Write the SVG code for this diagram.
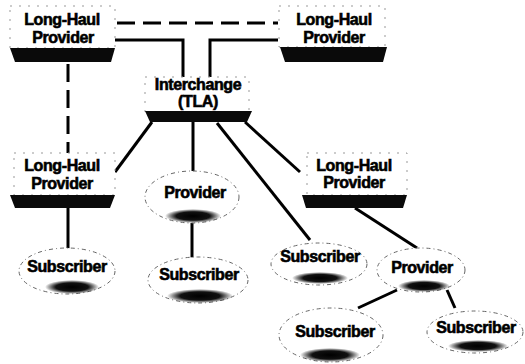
<svg xmlns="http://www.w3.org/2000/svg" width="525" height="364" viewBox="0 0 525 364">
<style>
.t{font-family:"Liberation Sans",Arial,sans-serif;font-weight:bold;font-size:16px;fill:#000;stroke:#000;stroke-width:0.6;letter-spacing:-0.4px;text-anchor:middle}
.box{fill:#fff;stroke:#999;stroke-width:1;stroke-dasharray:2 7}
.band{fill:#0a0a0a}
.oval{fill:#fff;stroke:#666;stroke-width:1;stroke-dasharray:4 3 1 3}
.blob{fill:url(#bg)}
.c{fill:none;stroke:#000;stroke-width:3}
.d{fill:none;stroke:#000;stroke-width:3;stroke-dasharray:18 8}
</style>
<defs>
<radialGradient id="bg" cx="0.5" cy="0.5" r="0.5">
<stop offset="0" stop-color="#000"/>
<stop offset="0.6" stop-color="#111"/>
<stop offset="1" stop-color="#000" stop-opacity="0"/>
</radialGradient>
</defs>
<g id="connectors">
<path class="d" d="M117,23 H278"/>
<path class="c" d="M115,40 H183 V77"/>
<path class="c" d="M278,40 H210 V77"/>
<path class="d" d="M68,64 V155"/>
<path class="c" d="M152,122 L115,172"/>
<path class="c" d="M193,122 V172"/>
<path class="c" d="M217,123 L310,240"/>
<path class="c" d="M245,122 L300,172"/>
<path class="c" d="M68,208 V250"/>
<path class="c" d="M192,223 V258"/>
<path class="c" d="M355,208 L417,248"/>
<path class="c" d="M397,290 L358,308"/>
<path class="c" d="M447,290 L455,308"/>
</g>
<g id="lh-top-left">
<rect class="box" x="10" y="6" width="105" height="42"/>
<polygon class="band" points="10,48 115,48 111,62 15,62"/>
<text class="t" x="62" y="25">Long-Haul</text>
<text class="t" x="63" y="43">Provider</text>
</g>
<g id="lh-top-right">
<rect class="box" x="279" y="6" width="106" height="41"/>
<polygon class="band" points="280,47 387,47 383,62 285,62"/>
<text class="t" x="334" y="25">Long-Haul</text>
<text class="t" x="334" y="43">Provider</text>
</g>
<g id="interchange">
<rect class="box" x="145" y="77" width="104" height="35"/>
<polygon class="band" points="145,111 252,111 247,122 150,122"/>
<text class="t" x="198" y="90">Interchange</text>
<text class="t" x="198" y="107">(TLA)</text>
</g>
<g id="lh-mid-left">
<rect class="box" x="14" y="153" width="101" height="42"/>
<polygon class="band" points="10,195 115,195 110,208 15,208"/>
<text class="t" x="62" y="171">Long-Haul</text>
<text class="t" x="62" y="189">Provider</text>
</g>
<g id="lh-mid-right">
<rect class="box" x="307" y="153" width="100" height="42"/>
<polygon class="band" points="302,195 407,195 403,208 306,208"/>
<text class="t" x="354" y="171">Long-Haul</text>
<text class="t" x="354" y="188">Provider</text>
</g>
<g id="provider-mid">
<ellipse class="oval" cx="192" cy="197" rx="47" ry="26"/>
<ellipse class="blob" cx="193" cy="216" rx="28" ry="7"/>
<text class="t" x="195" y="198">Provider</text>
</g>
<g id="provider-right">
<ellipse class="oval" cx="421" cy="270" rx="44" ry="22"/>
<ellipse class="blob" cx="424" cy="286" rx="26" ry="6"/>
<text class="t" x="422" y="273">Provider</text>
</g>
<g id="sub-left">
<ellipse class="oval" cx="67" cy="271" rx="48" ry="23"/>
<ellipse class="blob" cx="72" cy="287" rx="27" ry="7"/>
<text class="t" x="67" y="272">Subscriber</text>
</g>
<g id="sub-mid">
<ellipse class="oval" cx="198" cy="280" rx="50" ry="23"/>
<ellipse class="blob" cx="200" cy="296" rx="33" ry="7"/>
<text class="t" x="199" y="280">Subscriber</text>
</g>
<g id="sub-midright">
<ellipse class="oval" cx="319" cy="264" rx="48" ry="21"/>
<ellipse class="blob" cx="320" cy="278" rx="28" ry="6"/>
<text class="t" x="320" y="262">Subscriber</text>
</g>
<g id="sub-bottom">
<ellipse class="oval" cx="331" cy="335" rx="52" ry="27"/>
<ellipse class="blob" cx="330" cy="355" rx="30" ry="7"/>
<text class="t" x="335" y="337">Subscriber</text>
</g>
<g id="sub-bottom-right">
<ellipse class="oval" cx="475" cy="332" rx="48" ry="21"/>
<ellipse class="blob" cx="478" cy="346" rx="30" ry="6"/>
<text class="t" x="476" y="333">Subscriber</text>
</g>
</svg>
